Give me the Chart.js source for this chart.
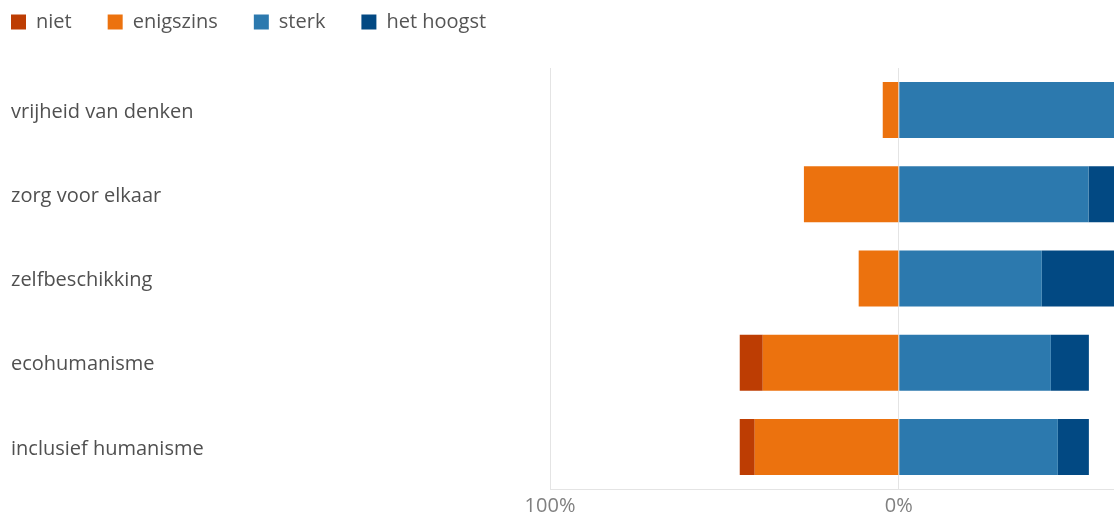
<!DOCTYPE html>
<html>
<head>
<meta charset="utf-8">
<script src="https://cdn.jsdelivr.net/npm/chart.js@4.4.1/dist/chart.umd.min.js"></script>
<style>
  html, body { margin: 0; padding: 0; background: #ffffff; overflow: hidden; }
  #wrap { position: relative; width: 1278px; height: 516px; }
</style>
</head>
<body>
<div id="wrap"><canvas id="c"></canvas></div>
<script>
const categories = ["vrijheid van denken", "zorg voor elkaar", "zelfbeschikking", "ecohumanisme", "inclusief humanisme"];
const seriesNames = ["niet", "enigszins", "sterk", "het hoogst"];
const niet = [0, 0, 0, 6.6, 4.3];
const enigszins = [4.6, 27.2, 11.5, 39.0, 41.3];
const sterk = [68.0, 54.4, 41.0, 43.6, 45.6];
const hetHoogst = [27.4, 18.4, 47.5, 10.9, 8.9];
const tickValues = [-100, 0, 100];
const colors = ["#bd3d03", "#ec720e", "#2c79ae", "#024983"];

const FONT = "'Open Sans', 'Noto Sans', sans-serif";
const LEGEND_PAD = 36;

const legendPlace = {
  id: 'legendPlace',
  afterLayout(chart) {
    const l = chart.legend;
    if (!l) return;
    l.left = 11 - LEGEND_PAD;
    l.top = 12 - LEGEND_PAD;
  }
};

const ctx = document.getElementById('c');
new Chart(ctx, {
  type: 'bar',
  data: {
    labels: categories,
    datasets: [
      { label: seriesNames[0], data: niet.map(v => -v), backgroundColor: colors[0], order: 1 },
      { label: seriesNames[1], data: enigszins.map(v => -v), backgroundColor: colors[1], order: 0 },
      { label: seriesNames[2], data: sterk, backgroundColor: colors[2], order: 2 },
      { label: seriesNames[3], data: hetHoogst, backgroundColor: colors[3], order: 3 }
    ]
  },
  plugins: [legendPlace],
  options: {
    indexAxis: 'y',
    responsive: true,
    maintainAspectRatio: false,
    animation: false,
    datasets: { bar: { barPercentage: 0.665, categoryPercentage: 1.0, borderWidth: 0 } },
    layout: { padding: { left: 11, top: 2, bottom: -7, right: 4 } },
    plugins: {
      tooltip: { enabled: false },
      legend: {
        position: 'top',
        align: 'start',
        labels: {
          boxWidth: 15,
          boxHeight: 15,
          padding: LEGEND_PAD,
          color: '#555555',
          font: { family: FONT, size: 20 },
          sort: (a, b) => a.datasetIndex - b.datasetIndex
        }
      }
    },
    scales: {
      x: {
        stacked: true,
        min: -100,
        max: 100,
        afterBuildTicks: (axis) => { axis.ticks = tickValues.map(v => ({ value: v })); },
        ticks: {
          color: '#808080',
          font: { family: FONT, size: 20 },
          padding: 5,
          maxRotation: 0,
          callback: (v) => Math.abs(v) + '%'
        },
        grid: { color: '#e4e4e4', drawTicks: false },
        border: { display: true, color: '#e4e4e4' }
      },
      y: {
        stacked: true,
        afterFit: (axis) => { axis.width = 539; },
        ticks: {
          crossAlign: 'far',
          labelOffset: 2,
          color: '#505050',
          font: { family: FONT, size: 20 }
        },
        grid: { display: false },
        border: { display: false }
      }
    }
  }
});
</script>
</body>
</html>
